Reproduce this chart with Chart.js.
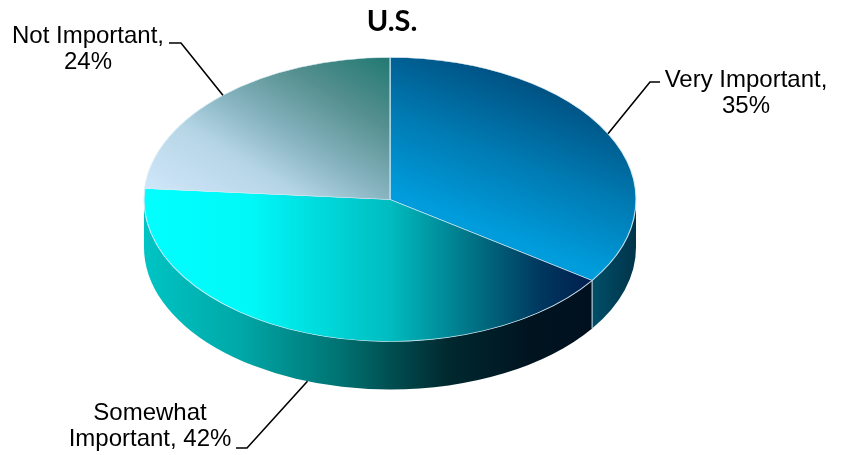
<!DOCTYPE html>
<html><head><meta charset="utf-8">
<style>html,body{margin:0;padding:0;background:#fff}canvas{display:block}</style>
<script src="https://cdn.jsdelivr.net/npm/chart.js@4"></script>
</head><body><canvas id="c" width="848" height="455"></canvas>
<script>
const categories = ["Very Important", "Somewhat Important", "Not Important"];
const seriesValues = [35, 42, 24];
const labelLines = [["Very Important,", "35%"], ["Somewhat", "Important, 42%"], ["Not Important,", "24%"]];
const chartTitle = "U.S.";

const CX = 390, CY = 199.5, RX = 246, RY = 142, DEPTH = 48;
const SX = RX / RY;
const topGrads = [
  [[400,195],[455,55],[[0,'#009cdc'],[0.5,'#007ab2'],[1,'#005384']]],
  [[150,200],[590,200],[[0,'#00ffff'],[0.23,'#00f8f8'],[0.545,'#00bcc0'],[0.75,'#006c80'],[0.886,'#00385f'],[1,'#001f4e']]],
  [[150,185],[270,-11],[[0,'#cde5f8'],[0.3,'#b5d5e5'],[0.5,'#86b3bf'],[0.75,'#55908f'],[1,'#257a75']]]
];
const wallGrads = [
  [[590,0],[636,0],[[0,'#00506a'],[1,'#00344a']]],
  [[144,0],[590,0],[[0,'#00c4c4'],[0.215,'#00a8a8'],[0.44,'#007272'],[0.55,'#004f52'],[0.686,'#00282e'],[0.865,'#001420'],[1,'#00101f']]]
];
const labelBoxes = [
  {x:746, y:80,  elbow:[650,82],  end:[660,82],  depth:0},
  {x:150, y:413, elbow:[247,448], end:[236,448], depth:DEPTH},
  {x:88,  y:36,  elbow:[181,43],  end:[169,43],  depth:0}
];

// Gradient given by its on-screen axis, converted for the squeezed pie drawing space
function makeTopGrad(ctx, g){
  const vx = g[1][0] - g[0][0], vy = g[1][1] - g[0][1];
  const wy = vy / SX;
  const k = (vx*vx + vy*vy) / (SX * (vx*vx + wy*wy));
  const x0 = CX + (g[0][0] - CX) / SX, y0 = g[0][1];
  const lg = ctx.createLinearGradient(x0, y0, x0 + k*vx, y0 + k*wy);
  g[2].forEach(s => lg.addColorStop(s[0], s[1]));
  return lg;
}
function makeWallGrad(ctx, g){
  const lg = ctx.createLinearGradient(g[0][0], g[0][1], g[1][0], g[1][1]);
  g[2].forEach(s => lg.addColorStop(s[0], s[1]));
  return lg;
}

const pie3d = {
  id: 'pie3d',
  beforeDatasetsDraw(chart){
    const ctx = chart.ctx, arcs = chart.getDatasetMeta(0).data;
    const a = arcs[0], r = a.outerRadius, rx = r * SX, x = a.x, y = a.y;
    arcs.forEach((arc, i) => {
      const s = Math.max(arc.startAngle, 0), e = Math.min(arc.endAngle, Math.PI);
      if (e <= s) return;
      ctx.save();
      ctx.beginPath();
      ctx.ellipse(x, y, rx, r, 0, s, e);
      ctx.ellipse(x, y + DEPTH, rx, r, 0, e, s, true);
      ctx.closePath();
      ctx.fillStyle = makeWallGrad(ctx, wallGrads[i]);
      ctx.fill();
      ctx.restore();
    });
    const b = arcs[0].endAngle;
    ctx.save();
    ctx.strokeStyle = 'rgba(200,222,235,0.85)';
    ctx.lineWidth = 1.2;
    ctx.beginPath();
    ctx.moveTo(x + rx * Math.cos(b), y + r * Math.sin(b));
    ctx.lineTo(x + rx * Math.cos(b), y + r * Math.sin(b) + DEPTH);
    ctx.stroke();
    ctx.restore();
    ctx.save();
    ctx.translate(x, y); ctx.scale(SX, 1); ctx.translate(-x, -y);
  },
  afterDatasetsDraw(chart){
    const ctx = chart.ctx;
    ctx.restore();
    const arcs = chart.getDatasetMeta(0).data;
    const r = arcs[0].outerRadius, rx = r * SX, x = arcs[0].x, y = arcs[0].y;
    ctx.save();
    ctx.fillStyle = '#000';
    ctx.font = 'bold 29px Lato, "Open Sans", sans-serif';
    ctx.textAlign = 'center'; ctx.textBaseline = 'middle';
    ctx.fillText(chartTitle, 392, 22);
    ctx.font = '24px "Liberation Sans", Arial, sans-serif';
    labelLines.forEach((lines, i) => {
      const box = labelBoxes[i];
      lines.forEach((t, k) => ctx.fillText(t, box.x, box.y + k * 26.5));
      const m = (arcs[i].startAngle + arcs[i].endAngle) / 2;
      ctx.beginPath();
      ctx.moveTo(x + rx * Math.cos(m), y + r * Math.sin(m) + box.depth);
      ctx.lineTo(box.elbow[0], box.elbow[1]);
      ctx.lineTo(box.end[0], box.end[1]);
      ctx.strokeStyle = '#000'; ctx.lineWidth = 1.6;
      ctx.stroke();
    });
    ctx.restore();
  }
};

new Chart(document.getElementById('c').getContext('2d'), {
  type: 'pie',
  data: {
    labels: categories,
    datasets: [{
      data: seriesValues,
      backgroundColor: c => makeTopGrad(c.chart.ctx, topGrads[c.dataIndex]),
      borderColor: 'rgba(215,235,245,0.85)',
      borderWidth: 0.7,
      hoverBorderWidth: 0.7
    }]
  },
  options: {
    responsive: false,
    animation: false,
    layout: { padding: { left: 0, right: 848 - 780, top: CY - RY - 0.35, bottom: 455 - (CY + RY) - 0.35 } },
    plugins: { legend: { display: false }, tooltip: { enabled: false }, title: { display: false } }
  },
  plugins: [pie3d]
});
</script></body></html>
